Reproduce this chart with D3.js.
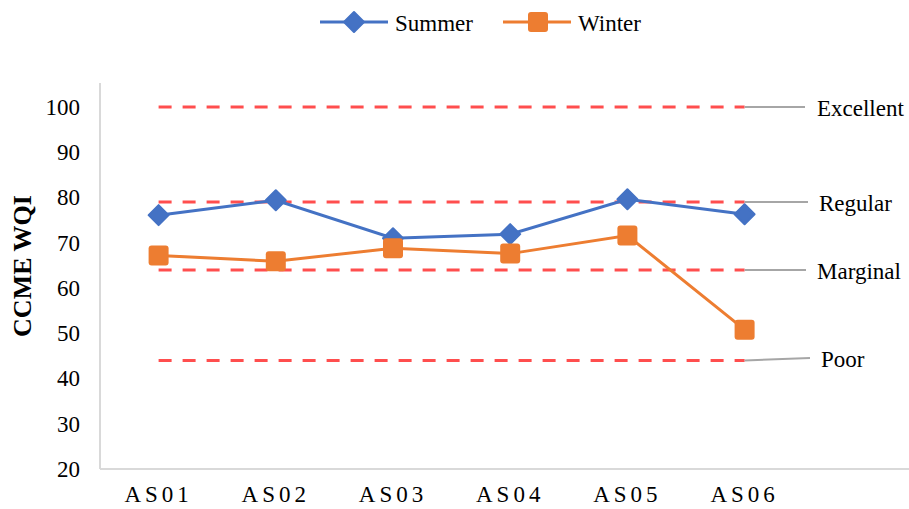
<!DOCTYPE html>
<html>
<head>
<meta charset="utf-8">
<script src="https://cdn.jsdelivr.net/npm/d3@7"></script>
<style>
  html, body { margin: 0; padding: 0; background: #fff; }
  svg { display: block; }
  svg text { font-family: "Liberation Serif", "Times New Roman", serif; fill: #000; }
</style>
</head>
<body>
<svg id="chart" width="909" height="509"></svg>
<script>
// Sampling sites and CCME WQI scores per season
const categories = ["AS01", "AS02", "AS03", "AS04", "AS05", "AS06"];
const summer = [76.1, 79.4, 71.0, 71.9, 79.6, 76.3];
const winter = [67.2, 65.9, 68.8, 67.6, 71.6, 50.8];
const yTicks = [20, 30, 40, 50, 60, 70, 80, 90, 100];
// Class thresholds drawn as dashed reference lines
const classNames = ["Excellent", "Regular", "Marginal", "Poor"];
const classValues = [100, 79, 64, 44];

const FONT = "'Liberation Serif', 'Times New Roman', serif";
const svg = d3.select("#chart");
const W = 909;
const plotLeft = 100, plotBottom = 469, plotTop = 83;

const x = d3.scaleBand().domain(categories).range([plotLeft, plotLeft + 6 * 117.2]);
const cx = d => x(d) + x.bandwidth() / 2;
const y = d3.scaleLinear().domain([20, 100]).range([plotBottom, 107]);

const blue = "#4472C4", orange = "#ED7D31";

// Axis lines
svg.append("line").attr("x1", plotLeft).attr("x2", plotLeft).attr("y1", plotTop).attr("y2", plotBottom)
  .attr("stroke", "#d9d9d9").attr("stroke-width", 2);
svg.append("line").attr("x1", plotLeft).attr("x2", W).attr("y1", plotBottom).attr("y2", plotBottom)
  .attr("stroke", "#d9d9d9").attr("stroke-width", 2);

// Y axis tick labels
const yAxis = d3.axisLeft(y).tickValues(yTicks).tickSize(0).tickPadding(20);
const gy = svg.append("g").attr("transform", `translate(${plotLeft},0)`).call(yAxis);
gy.select(".domain").remove();
gy.attr("font-family", null).attr("font-size", null);
gy.selectAll("text").style("font-size", "23px").style("font-family", FONT).attr("fill", "#000");

// X axis category labels
const xAxis = d3.axisBottom(x).tickSize(0).tickPadding(17);
const gx = svg.append("g").attr("transform", `translate(0,${plotBottom})`).call(xAxis);
gx.select(".domain").remove();
gx.attr("font-family", null).attr("font-size", null);
gx.selectAll("text").style("font-size", "23px").style("font-family", FONT)
  .style("letter-spacing", "4px").attr("fill", "#000");

// Y axis title
svg.append("text")
  .attr("transform", "translate(31,266) rotate(-90)")
  .attr("text-anchor", "middle")
  .style("font-size", "26px").style("font-weight", "bold").style("font-family", FONT)
  .text("CCME WQI");

// Reference lines with leader lines to class labels
const x0 = cx(categories[0]), x1 = cx(categories[categories.length - 1]);
const leaderEnd = [805, 808, 806, 810];
const leaderRise = [0, 0, 0, 2.5];
const labelX = [817, 819, 817, 821];
classValues.forEach((v, i) => {
  svg.append("line").attr("x1", x0).attr("x2", x1).attr("y1", y(v)).attr("y2", y(v))
    .attr("stroke", "#ff3b3b").attr("stroke-opacity", 0.9).attr("stroke-width", 3)
    .attr("stroke-dasharray", "13,11");
  svg.append("line").attr("x1", x1).attr("x2", leaderEnd[i])
    .attr("y1", y(v)).attr("y2", y(v) - leaderRise[i])
    .attr("stroke", "#a6a6a6").attr("stroke-width", 2);
  svg.append("text").attr("x", labelX[i]).attr("y", y(v) - leaderRise[i] + 1)
    .attr("dy", "0.35em").style("font-size", "23px").style("font-family", FONT)
    .text(classNames[i]);
});

// Series lines and markers
const line = d3.line().x((d, i) => cx(categories[i])).y(d => y(d));
const diamond = d3.symbol().type(d3.symbolSquare).size(200);

svg.append("path").datum(summer).attr("d", line)
  .attr("fill", "none").attr("stroke", blue).attr("stroke-width", 3);
svg.append("path").datum(winter).attr("d", line)
  .attr("fill", "none").attr("stroke", orange).attr("stroke-width", 3);

svg.selectAll(".sm").data(summer).enter().append("path")
  .attr("d", diamond)
  .attr("transform", (d, i) => `translate(${cx(categories[i])},${y(d)}) rotate(45)`)
  .attr("fill", blue).attr("stroke", blue).attr("stroke-width", 2).attr("stroke-linejoin", "round");

svg.selectAll(".wm").data(winter).enter().append("rect")
  .attr("x", (d, i) => cx(categories[i]) - 10).attr("y", d => y(d) - 10)
  .attr("width", 20).attr("height", 20).attr("rx", 3)
  .attr("fill", orange);

// Legend
const legend = [
  { name: "Summer", color: blue, type: "diamond", x: 320 },
  { name: "Winter", color: orange, type: "square", x: 503 }
];
legend.forEach(l => {
  const g = svg.append("g").attr("transform", `translate(${l.x},22)`);
  g.append("line").attr("x1", 0).attr("x2", 68).attr("stroke", l.color).attr("stroke-width", 3);
  if (l.type === "diamond") {
    g.append("path").attr("d", diamond).attr("transform", "translate(34,0) rotate(45)")
      .attr("fill", l.color).attr("stroke", l.color).attr("stroke-width", 2).attr("stroke-linejoin", "round");
  } else {
    g.append("rect").attr("x", 25).attr("y", -10).attr("width", 20).attr("height", 20)
      .attr("rx", 3).attr("fill", l.color);
  }
  g.append("text").attr("x", 75).attr("y", 1).attr("dy", "0.35em")
    .style("font-size", "23px").style("font-family", FONT).text(l.name);
});
</script>
</body>
</html>
